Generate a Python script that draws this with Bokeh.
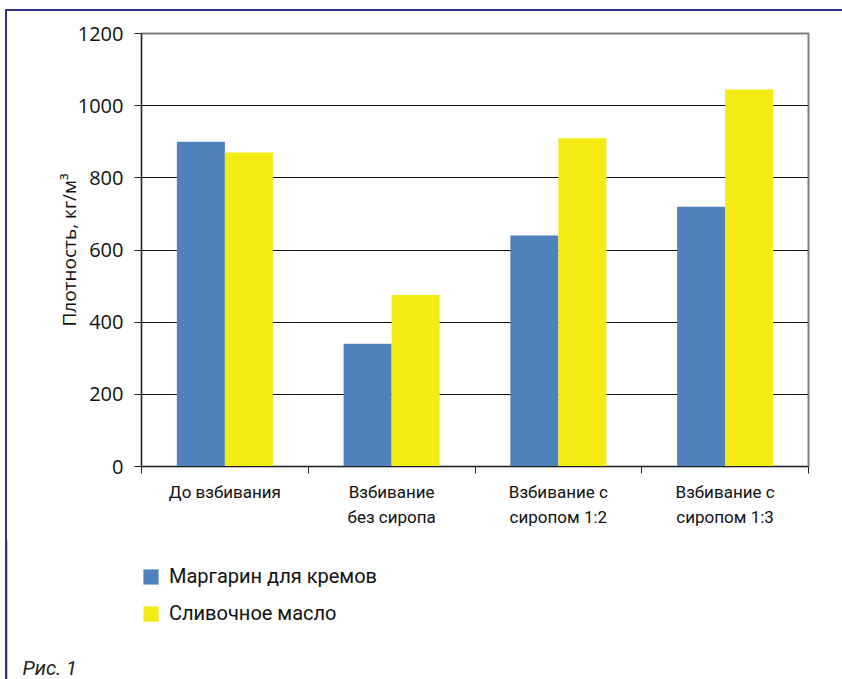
from bokeh.plotting import figure
from bokeh.models import (Range1d, FixedTicker, Legend, LegendItem, Label, ColumnDataSource)
from bokeh.layouts import column
from bokeh.embed import file_html
from bokeh.resources import INLINE
import numpy as np

categories = ["До взбивания", "Взбивание\nбез сиропа", "Взбивание с\nсиропом 1:2", "Взбивание с\nсиропом 1:3"]
margarine = [900, 340, 640, 720]
butter = [870, 475, 910, 1045]
series_names = ["Маргарин для кремов", "Сливочное масло"]
y_ticks = [0, 200, 400, 600, 800, 1000, 1200]

BLUE = "#4f81bd"
YELLOW = "#f5eb14"

centers = np.arange(len(categories)) + 0.5
bw = 0.288

W = 835
H1 = 529
H2 = 139

p = figure(width=W, height=H1, output_backend="svg", toolbar_location=None,
           x_range=Range1d(0, len(categories)), y_range=Range1d(0, 1200),
           min_border_left=134, min_border_top=22, min_border_right=34, min_border_bottom=74)
p.background_fill_color = "white"
p.border_fill_color = "white"
p.outline_line_color = "#7f7f7f"
p.outline_line_width = 2

src_m = ColumnDataSource(dict(x=centers - bw / 2, top=margarine))
src_b = ColumnDataSource(dict(x=centers + bw / 2, top=butter))
p.vbar(x="x", top="top", width=bw, bottom=0, source=src_m, fill_color=BLUE, line_color=None)
p.vbar(x="x", top="top", width=bw, bottom=0, source=src_b, fill_color=YELLOW, line_color=None)

p.xgrid.visible = False
p.ygrid.grid_line_color = "#111111"
p.ygrid.grid_line_width = 1
p.ygrid.ticker = FixedTicker(ticks=y_ticks)

yax = p.yaxis[0]
yax.ticker = FixedTicker(ticks=y_ticks, minor_ticks=[])
yax.axis_line_color = "#222222"
yax.major_tick_line_color = "#222222"
yax.major_tick_out = 7
yax.major_tick_in = 0
yax.minor_tick_line_color = None
yax.major_label_text_font = "Open Sans"
yax.major_label_text_font_size = "20px"
yax.major_label_text_color = "#111111"
yax.major_label_standoff = 11
yax.axis_label = "Плотность, кг/м³"
yax.axis_label_text_font = "Open Sans"
yax.axis_label_text_font_size = "19px"
yax.axis_label_text_font_style = "normal"
yax.axis_label_text_color = "#111111"
yax.axis_label_standoff = -7

xax = p.xaxis[0]
xax.ticker = FixedTicker(ticks=list(centers), minor_ticks=list(range(len(categories) + 1)))
xax.major_label_overrides = {float(c): lab for c, lab in zip(centers, categories)}
xax.axis_line_color = "#222222"
xax.major_tick_line_color = None
xax.minor_tick_line_color = "#222222"
xax.minor_tick_out = 7
xax.minor_tick_in = 0
xax.major_label_text_font = "Roboto"
xax.major_label_text_font_size = "17px"
xax.major_label_text_line_height = 1.25
xax.major_label_text_color = "#111111"
xax.major_label_standoff = 8

# legend + caption panel (swatches drawn from the same data, off-screen)
q = figure(width=W, height=H2, output_backend="svg", toolbar_location=None,
           x_range=Range1d(100, 101), y_range=Range1d(0, 1),
           min_border=0, x_axis_location=None, y_axis_location=None)
try:
    q.frame_align = False
    p.frame_align = False
except Exception:
    pass
q.outline_line_color = None
q.background_fill_color = "white"
q.border_fill_color = "white"
q.xgrid.visible = False
q.ygrid.visible = False
lm = q.vbar(x="x", top="top", width=bw, source=src_m, fill_color=BLUE, line_color=None)
lb = q.vbar(x="x", top="top", width=bw, source=src_b, fill_color=YELLOW, line_color=None)

legend = Legend(items=[LegendItem(label=series_names[0], renderers=[lm], index=0),
                       LegendItem(label=series_names[1], renderers=[lb], index=0)],
                location=(134, 54), orientation="vertical")
legend.background_fill_alpha = 0
legend.border_line_color = None
legend.padding = 0
legend.margin = 0
legend.spacing = 13
legend.glyph_width = 19
legend.glyph_height = 19
legend.label_standoff = 9
legend.label_text_font = "Roboto"
legend.label_text_font_size = "20px"
legend.label_text_color = "#111111"
q.add_layout(legend, "center")

cap = Label(x=15, y=12, x_units="screen", y_units="screen", text="Рис. 1",
            text_font="Roboto", text_font_style="italic", text_font_size="20px",
            text_color="#222222", text_baseline="alphabetic")
q.add_layout(cap)

layout = column(p, q, spacing=0,
                styles={"border-left": "2px solid #2e3192", "border-top": "2px solid #2e3192",
                        "margin-left": "5px", "margin-top": "9px"})

open("out.html", "w").write(file_html(layout, INLINE))
